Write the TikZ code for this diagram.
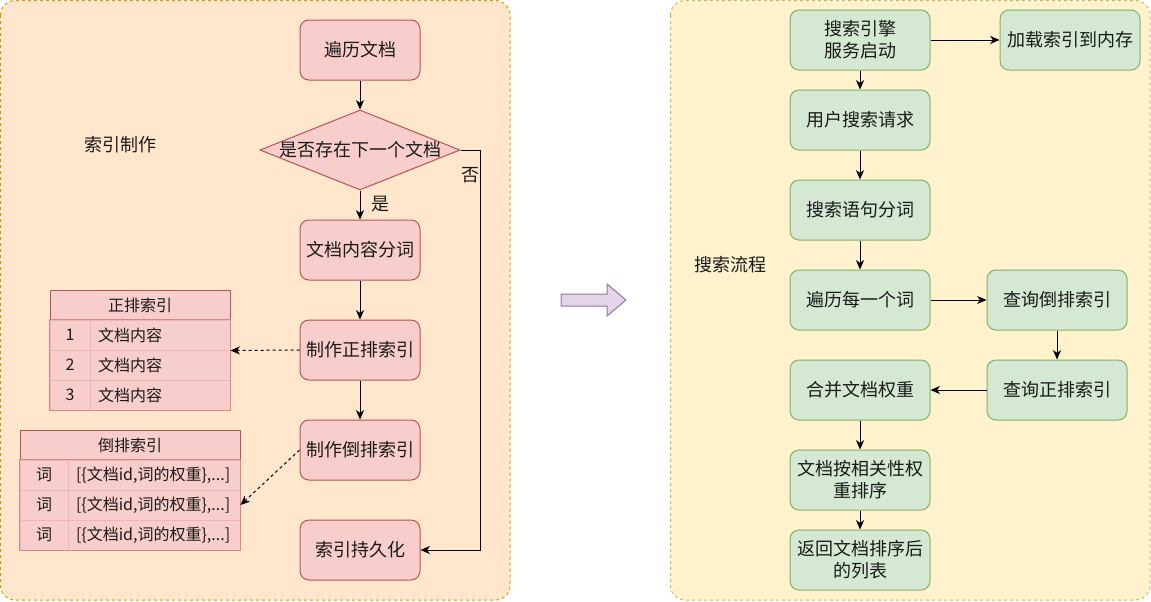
\documentclass[tikz,border=0pt]{standalone}
\usepackage{fontspec}
\setmainfont{Noto Sans CJK SC}
\usetikzlibrary{shapes.geometric,arrows.meta}
\definecolor{redfill}{HTML}{F8CECC}
\definecolor{redline}{HTML}{B85450}
\definecolor{redmid}{HTML}{D98886}
\definecolor{redlight}{HTML}{EDB5B3}
\definecolor{grnfill}{HTML}{D5E8D4}
\definecolor{grnline}{HTML}{82B366}
\definecolor{orgfill}{HTML}{FFE6CC}
\definecolor{orgline}{HTML}{D79B00}
\definecolor{ylwfill}{HTML}{FFF2CC}
\definecolor{ylwline}{HTML}{D6B656}
\definecolor{purfill}{HTML}{E1D5E7}
\definecolor{purline}{HTML}{9673A6}
\definecolor{txt}{HTML}{1A1A1A}
\tikzset{
  box/.style={rectangle, rounded corners=6.75pt, minimum width=90pt, minimum height=45pt,
    inner sep=2pt, align=center, line width=0.75pt, text=txt, font=\fontsize{13.5}{16.5}\selectfont},
  redbox/.style={box, draw=redline, fill=redfill},
  grnbox/.style={box, draw=grnline, fill=grnfill, minimum width=105pt},
  decbox/.style={diamond, draw=redline, fill=redfill, line width=0.75pt, inner sep=0pt,
    minimum width=150pt, minimum height=60pt},
  flow/.style={draw=black, line width=0.75pt, -{Stealth[length=7pt,width=6pt,inset=2pt]}},
  dflow/.style={flow, dash pattern=on 2.25pt off 2.25pt},
  panel/.style={line width=0.75pt, dash pattern=on 2.25pt off 2.25pt, rounded corners=11pt},
  lbl/.style={text=txt, font=\fontsize{13.5}{16.5}\selectfont, inner sep=0pt},
  small/.style={text=txt, font=\fontsize{12}{14}\selectfont, inner sep=0pt},
  cell/.style={rectangle, fill=redfill, draw=redlight, line width=0.75pt, minimum height=22.5pt,
    inner sep=0pt, text=txt, font=\fontsize{12}{14}\selectfont},
  hcell/.style={cell, draw=redline},
  colb/.style={cell, inner xsep=6pt, text width=#1, align=left},
}
\begin{document}
\begin{tikzpicture}[x=0.75pt,y=-0.75pt]
\useasboundingbox (0,0) rectangle (1151,601);
% panels
\draw[panel, draw=orgline, fill=orgfill] (0.5,0.5) rectangle (510,600);
\draw[panel, draw=ylwline, fill=ylwfill] (670.5,0.5) rectangle (1150,600);

% ---------- left: index building ----------
\node[lbl] (lt) at (120,145) {索引制作};
\node[redbox] (n1) at (360,50) {遍历文档};
\node[decbox, label={[lbl]center:是否存在下一个文档}] (dec) at (360,150) {};
\node[redbox] (n2) at (360,250) {文档内容分词};
\node[redbox] (n3) at (360,350) {制作正排索引};
\node[redbox] (n4) at (360,450) {制作倒排索引};
\node[redbox] (n6) at (360,550) {索引持久化};

% table 1
\node[hcell, minimum width=135pt] (t1h) at (140,305) {正排索引};
\foreach \i/\y in {1/335,2/365,3/395}{
  \node[cell, minimum width=30pt] (t1r\i a) at (70,\y) {\i};
  \node[colb=93pt] (t1r\i b) at (160,\y) {文档内容};
}
\draw[redmid, line width=0.75pt] (t1r1a.north west) rectangle (t1r3b.south east);

% table 2
\node[hcell, minimum width=165pt] (t2h) at (130,445) {倒排索引};
\foreach \i/\y in {1/475,2/505,3/535}{
  \node[cell, minimum width=36pt] (t2r\i a) at (44,\y) {词};
  \node[colb=117pt] (t2r\i b) at (154,\y) {[\{文档id,词的权重\},...]};
}
\draw[redmid, line width=0.75pt] (t2r1a.north west) rectangle (t2r3b.south east);

% connectors left
\draw[flow] (n1) -- (dec);
\draw[flow] (dec) -- (n2);
\node[lbl] (yes) at (380,204) {是};
\draw[flow] (dec.east) -- ++(15pt,0) |- (n6.east);
\node[lbl] (no) at (470,175) {否};
\draw[flow] (n2) -- (n3);
\draw[flow] (n3) -- (n4);
\draw[dflow] (n3.west) -- (t1r1b.south east);
\draw[dflow] (n4.west) -- (t2r2b.east);

% middle arrow
\draw[purline, fill=purfill, line width=0.75pt]
  (561,294) -- (607,294) -- (607,284) -- (626,300) -- (607,316) -- (607,306) -- (561,306) -- cycle;

% ---------- right: search flow ----------
\node[lbl] (rt) at (730,265) {搜索流程};
\node[grnbox] (s1) at (860,40) {搜索引擎\\服务启动};
\node[grnbox] (s2) at (1070,40) {加载索引到内存};
\node[grnbox] (s3) at (860,120) {用户搜索请求};
\node[grnbox] (s4) at (860,210) {搜索语句分词};
\node[grnbox] (s5) at (860,300) {遍历每一个词};
\node[grnbox] (s6) at (1057,300) {查询倒排索引};
\node[grnbox] (s7) at (1057,390) {查询正排索引};
\node[grnbox] (s8) at (860,390) {合并文档权重};
\node[grnbox] (s9) at (860,480) {文档按相关性权\\重排序};
\node[grnbox] (s10) at (860,560) {返回文档排序后\\的列表};

\draw[flow] (s1) -- (s2);
\draw[flow] (s1) -- (s3);
\draw[flow] (s3) -- (s4);
\draw[flow] (s4) -- (s5);
\draw[flow] (s5) -- (s6);
\draw[flow] (s6) -- (s7);
\draw[flow] (s7) -- (s8);
\draw[flow] (s8) -- (s9);
\draw[flow] (s9) -- (s10);
\end{tikzpicture}
\end{document}
